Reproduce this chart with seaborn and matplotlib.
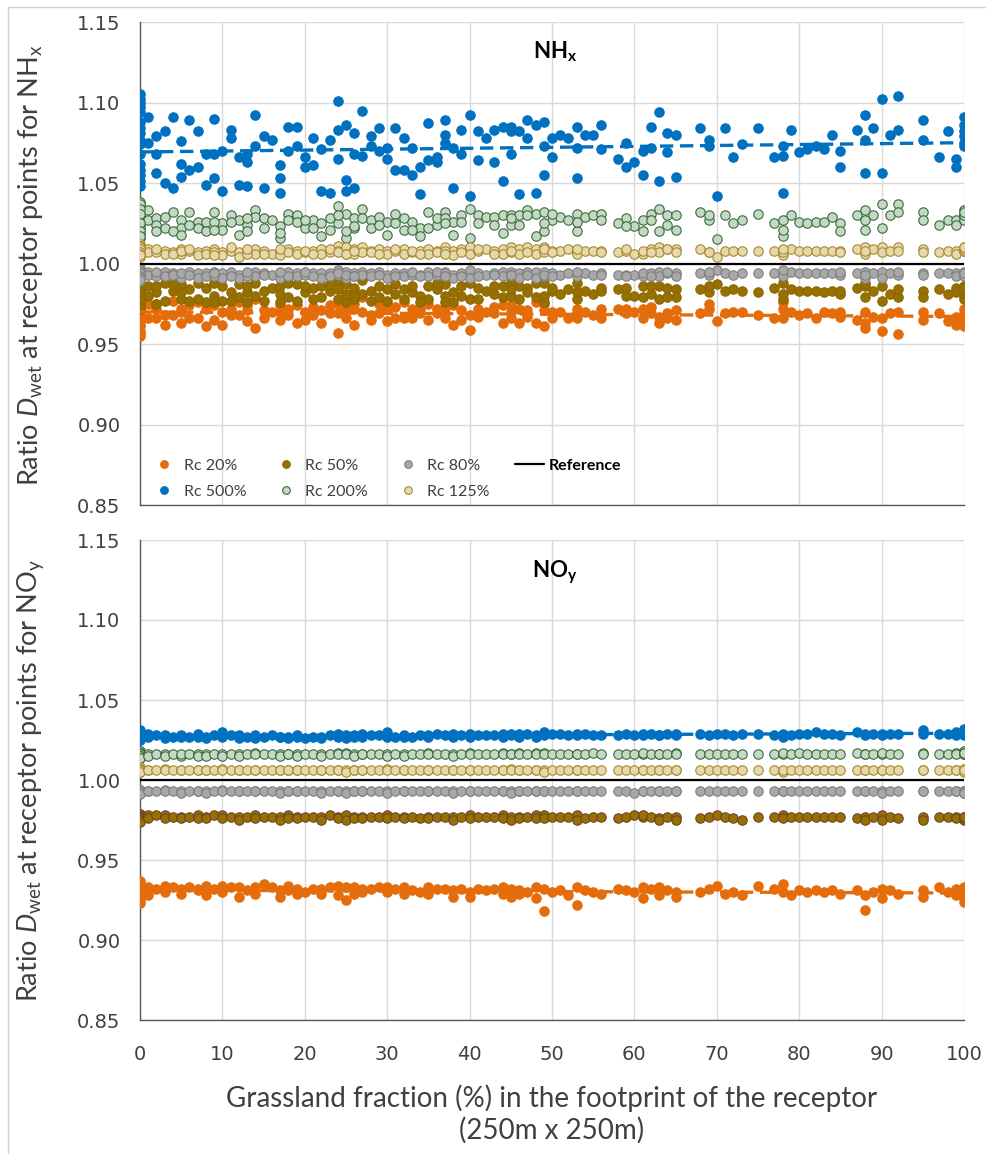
import numpy as np
import matplotlib
matplotlib.use("Agg")
import matplotlib.pyplot as plt
import seaborn as sns
from matplotlib.lines import Line2D

# ---------------- data ----------------
GRASS = [0, 0, 0, 0, 0, 0, 0, 0, 0, 0,
         1, 1, 2, 3, 3, 4, 5, 5, 6, 7,
         7, 8, 8, 9, 10, 10, 11, 12, 12, 13,
         14, 14, 15, 16, 17, 17, 18, 18, 19, 19,
         20, 21, 22, 22, 23, 24, 24, 25, 25, 26,
         26, 27, 27, 28, 29, 30, 30, 31, 32, 32,
         33, 34, 35, 35, 36, 37, 38, 38, 39, 40,
         40, 41, 42, 43, 44, 44, 45, 45, 46, 46,
         47, 48, 48, 49, 49, 50, 51, 52, 53, 53,
         54, 55, 56, 58, 59, 60, 61, 61, 62, 63,
         63, 64, 65, 65, 68, 69, 70, 71, 72, 73,
         75, 77, 78, 78, 79, 80, 81, 82, 83, 84,
         85, 87, 88, 88, 89, 90, 90, 91, 92, 95,
         95, 97, 98, 99, 99, 100, 100, 100, 100, 100]
# extra receptors visible only in the NHx panel (overlapping in NOy panel)
GRASS_EXTRA = [0, 0, 0, 0, 0, 0, 2, 2, 4, 5,
               6, 9, 9, 11, 13, 13, 15, 17, 20, 21,
               23, 24, 25, 26, 28, 29, 31, 33, 34, 36,
               37, 37, 39, 41, 43, 45, 47, 49, 50, 53,
               56, 59, 62, 64, 69, 78, 85, 88, 92, 100]

# NHx panel
NHX_RC500 = [1.105, 1.100, 1.094, 1.088, 1.081, 1.074, 1.068, 1.062, 1.055, 1.048,
             1.091, 1.075, 1.079, 1.082, 1.050, 1.091, 1.076, 1.054, 1.089, 1.082,
             1.060, 1.068, 1.049, 1.090, 1.070, 1.045, 1.083, 1.049, 1.066, 1.068,
             1.092, 1.073, 1.079, 1.077, 1.061, 1.044, 1.085, 1.070, 1.085, 1.073,
             1.060, 1.078, 1.071, 1.045, 1.077, 1.101, 1.065, 1.086, 1.045, 1.081,
             1.068, 1.095, 1.067, 1.079, 1.084, 1.072, 1.065, 1.084, 1.078, 1.058,
             1.072, 1.060, 1.087, 1.064, 1.066, 1.089, 1.072, 1.047, 1.083, 1.092,
             1.042, 1.082, 1.078, 1.083, 1.085, 1.051, 1.082, 1.068, 1.082, 1.043,
             1.089, 1.086, 1.044, 1.088, 1.055, 1.078, 1.080, 1.078, 1.085, 1.053,
             1.080, 1.080, 1.086, 1.065, 1.060, 1.063, 1.055, 1.070, 1.085, 1.094,
             1.051, 1.081, 1.080, 1.054, 1.084, 1.077, 1.042, 1.084, 1.066, 1.074,
             1.084, 1.066, 1.044, 1.073, 1.083, 1.069, 1.071, 1.073, 1.071, 1.080,
             1.070, 1.083, 1.092, 1.056, 1.084, 1.102, 1.056, 1.080, 1.104, 1.089,
             1.077, 1.066, 1.082, 1.065, 1.060, 1.091, 1.086, 1.082, 1.075, 1.073]
NHX_RC500_EXTRA = [1.102, 1.097, 1.084, 1.077, 1.058, 1.051, 1.068, 1.056, 1.047, 1.062,
                   1.058, 1.068, 1.053, 1.078, 1.063, 1.048, 1.047, 1.053, 1.066, 1.061,
                   1.044, 1.083, 1.052, 1.047, 1.073, 1.070, 1.058, 1.055, 1.043, 1.063,
                   1.080, 1.075, 1.068, 1.064, 1.063, 1.085, 1.078, 1.073, 1.066, 1.072,
                   1.071, 1.075, 1.072, 1.069, 1.073, 1.067, 1.060, 1.077, 1.083, 1.079]
NHX_RC200 = [1.038, 1.036, 1.033, 1.030, 1.028, 1.026, 1.024, 1.022, 1.019, 1.016,
             1.033, 1.027, 1.028, 1.029, 1.022, 1.032, 1.027, 1.022, 1.032, 1.026,
             1.022, 1.026, 1.020, 1.032, 1.025, 1.021, 1.030, 1.018, 1.027, 1.024,
             1.033, 1.029, 1.028, 1.027, 1.023, 1.016, 1.031, 1.027, 1.030, 1.026,
             1.022, 1.027, 1.025, 1.017, 1.028, 1.036, 1.025, 1.031, 1.016, 1.028,
             1.022, 1.034, 1.028, 1.027, 1.029, 1.026, 1.018, 1.031, 1.028, 1.021,
             1.026, 1.022, 1.032, 1.022, 1.024, 1.032, 1.026, 1.018, 1.030, 1.034,
             1.016, 1.030, 1.029, 1.029, 1.030, 1.019, 1.030, 1.024, 1.030, 1.024,
             1.033, 1.031, 1.017, 1.032, 1.020, 1.027, 1.029, 1.027, 1.031, 1.020,
             1.029, 1.030, 1.031, 1.025, 1.028, 1.023, 1.020, 1.027, 1.031, 1.034,
             1.020, 1.030, 1.030, 1.021, 1.032, 1.027, 1.015, 1.030, 1.025, 1.027,
             1.031, 1.025, 1.017, 1.021, 1.030, 1.026, 1.025, 1.026, 1.026, 1.029,
             1.025, 1.030, 1.033, 1.021, 1.030, 1.037, 1.022, 1.030, 1.037, 1.032,
             1.027, 1.024, 1.027, 1.027, 1.024, 1.033, 1.031, 1.029, 1.027, 1.030]
NHX_RC200_EXTRA = [1.037, 1.034, 1.031, 1.025, 1.020, 1.017, 1.024, 1.020, 1.020, 1.018,
                   1.024, 1.026, 1.021, 1.026, 1.028, 1.020, 1.022, 1.019, 1.027, 1.022,
                   1.021, 1.030, 1.020, 1.023, 1.022, 1.024, 1.025, 1.021, 1.017, 1.028,
                   1.028, 1.025, 1.026, 1.025, 1.024, 1.028, 1.030, 1.025, 1.031, 1.026,
                   1.027, 1.023, 1.027, 1.024, 1.030, 1.027, 1.020, 1.027, 1.032, 1.032]
NHX_RC125 = [1.012, 1.011, 1.010, 1.009, 1.008, 1.008, 1.007, 1.006, 1.005, 1.004,
             1.009, 1.007, 1.008, 1.008, 1.006, 1.007, 1.009, 1.006, 1.008, 1.007,
             1.005, 1.008, 1.006, 1.009, 1.007, 1.005, 1.008, 1.007, 1.004, 1.008,
             1.009, 1.006, 1.008, 1.006, 1.008, 1.005, 1.009, 1.007, 1.008, 1.006,
             1.007, 1.008, 1.009, 1.006, 1.007, 1.011, 1.008, 1.010, 1.006, 1.009,
             1.006, 1.010, 1.007, 1.008, 1.009, 1.008, 1.006, 1.008, 1.009, 1.006,
             1.007, 1.008, 1.009, 1.006, 1.008, 1.010, 1.008, 1.005, 1.009, 1.010,
             1.006, 1.008, 1.009, 1.008, 1.009, 1.006, 1.010, 1.007, 1.009, 1.006,
             1.010, 1.009, 1.006, 1.010, 1.007, 1.008, 1.008, 1.009, 1.008, 1.006,
             1.008, 1.008, 1.008, 1.007, 1.008, 1.006, 1.006, 1.008, 1.009, 1.010,
             1.007, 1.009, 1.009, 1.007, 1.009, 1.007, 1.004, 1.008, 1.008, 1.008,
             1.008, 1.008, 1.005, 1.007, 1.009, 1.008, 1.008, 1.008, 1.008, 1.008,
             1.008, 1.009, 1.010, 1.006, 1.009, 1.010, 1.007, 1.008, 1.010, 1.009,
             1.007, 1.007, 1.008, 1.008, 1.006, 1.010, 1.009, 1.008, 1.008, 1.009]
NHX_RC125_EXTRA = [1.011, 1.010, 1.009, 1.007, 1.006, 1.005, 1.007, 1.009, 1.006, 1.008,
                   1.009, 1.007, 1.005, 1.010, 1.006, 1.009, 1.006, 1.009, 1.008, 1.006,
                   1.009, 1.007, 1.006, 1.008, 1.007, 1.006, 1.009, 1.008, 1.006, 1.007,
                   1.008, 1.006, 1.007, 1.009, 1.006, 1.008, 1.007, 1.009, 1.007, 1.009,
                   1.007, 1.009, 1.007, 1.009, 1.007, 1.009, 1.007, 1.008, 1.008, 1.010]
NHX_RC80 = [0.997, 0.996, 0.995, 0.994, 0.993, 0.993, 0.992, 0.991, 0.990, 0.989,
            0.995, 0.993, 0.994, 0.995, 0.992, 0.994, 0.993, 0.991, 0.995, 0.994,
            0.991, 0.994, 0.992, 0.995, 0.994, 0.991, 0.995, 0.993, 0.991, 0.994,
            0.995, 0.992, 0.994, 0.993, 0.994, 0.991, 0.995, 0.992, 0.994, 0.992,
            0.993, 0.994, 0.994, 0.991, 0.994, 0.996, 0.993, 0.995, 0.991, 0.994,
            0.992, 0.995, 0.993, 0.994, 0.995, 0.993, 0.991, 0.994, 0.994, 0.992,
            0.993, 0.993, 0.995, 0.992, 0.993, 0.995, 0.993, 0.991, 0.994, 0.996,
            0.991, 0.994, 0.993, 0.994, 0.995, 0.992, 0.995, 0.993, 0.994, 0.991,
            0.995, 0.995, 0.991, 0.995, 0.992, 0.994, 0.993, 0.994, 0.994, 0.992,
            0.994, 0.993, 0.994, 0.993, 0.993, 0.993, 0.992, 0.994, 0.994, 0.995,
            0.992, 0.994, 0.994, 0.992, 0.994, 0.993, 0.996, 0.994, 0.993, 0.994,
            0.994, 0.994, 0.995, 0.992, 0.995, 0.994, 0.994, 0.994, 0.994, 0.994,
            0.993, 0.994, 0.995, 0.991, 0.994, 0.995, 0.991, 0.994, 0.993, 0.994,
            0.993, 0.994, 0.994, 0.994, 0.992, 0.995, 0.994, 0.993, 0.993, 0.992]
NHX_RC80_EXTRA = [0.996, 0.995, 0.994, 0.992, 0.991, 0.990, 0.992, 0.995, 0.993, 0.994,
                  0.993, 0.992, 0.994, 0.992, 0.992, 0.995, 0.993, 0.995, 0.995, 0.992,
                  0.992, 0.994, 0.993, 0.992, 0.992, 0.993, 0.992, 0.995, 0.992, 0.995,
                  0.994, 0.992, 0.992, 0.992, 0.993, 0.993, 0.993, 0.993, 0.992, 0.995,
                  0.993, 0.992, 0.992, 0.995, 0.995, 0.996, 0.995, 0.993, 0.995, 0.994]
NHX_RC50 = [0.991, 0.988, 0.986, 0.984, 0.982, 0.980, 0.978, 0.976, 0.974, 0.972,
            0.986, 0.980, 0.982, 0.988, 0.977, 0.983, 0.987, 0.978, 0.984, 0.988,
            0.978, 0.985, 0.976, 0.988, 0.986, 0.977, 0.982, 0.987, 0.979, 0.982,
            0.988, 0.980, 0.983, 0.985, 0.986, 0.976, 0.988, 0.979, 0.987, 0.977,
            0.982, 0.985, 0.986, 0.979, 0.983, 0.989, 0.978, 0.987, 0.976, 0.985,
            0.978, 0.990, 0.981, 0.983, 0.986, 0.984, 0.977, 0.987, 0.984, 0.978,
            0.982, 0.980, 0.986, 0.978, 0.984, 0.987, 0.982, 0.976, 0.986, 0.988,
            0.978, 0.985, 0.983, 0.981, 0.986, 0.979, 0.988, 0.980, 0.986, 0.978,
            0.985, 0.988, 0.979, 0.988, 0.976, 0.983, 0.981, 0.984, 0.988, 0.978,
            0.983, 0.981, 0.983, 0.984, 0.985, 0.980, 0.979, 0.986, 0.981, 0.986,
            0.978, 0.985, 0.984, 0.979, 0.984, 0.982, 0.987, 0.983, 0.984, 0.983,
            0.982, 0.985, 0.978, 0.988, 0.984, 0.983, 0.983, 0.983, 0.982, 0.983,
            0.981, 0.985, 0.986, 0.979, 0.983, 0.986, 0.977, 0.981, 0.979, 0.983,
            0.979, 0.984, 0.981, 0.985, 0.982, 0.986, 0.984, 0.982, 0.980, 0.978]
NHX_RC50_EXTRA = [0.990, 0.987, 0.983, 0.979, 0.977, 0.973, 0.986, 0.975, 0.987, 0.982,
                  0.977, 0.980, 0.976, 0.977, 0.986, 0.976, 0.977, 0.981, 0.986, 0.978,
                  0.987, 0.984, 0.981, 0.980, 0.977, 0.979, 0.981, 0.986, 0.976, 0.988,
                  0.980, 0.976, 0.980, 0.978, 0.986, 0.984, 0.982, 0.980, 0.985, 0.982,
                  0.985, 0.980, 0.986, 0.979, 0.986, 0.981, 0.983, 0.988, 0.984, 0.985]
NHX_RC20 = [0.982, 0.979, 0.976, 0.973, 0.970, 0.967, 0.964, 0.961, 0.958, 0.955,
            0.975, 0.966, 0.972, 0.968, 0.962, 0.977, 0.970, 0.963, 0.974, 0.976,
            0.966, 0.972, 0.961, 0.974, 0.970, 0.962, 0.972, 0.976, 0.968, 0.971,
            0.978, 0.960, 0.971, 0.970, 0.974, 0.965, 0.972, 0.968, 0.974, 0.963,
            0.970, 0.968, 0.971, 0.963, 0.969, 0.975, 0.957, 0.978, 0.966, 0.972,
            0.962, 0.979, 0.970, 0.968, 0.975, 0.972, 0.964, 0.973, 0.976, 0.966,
            0.972, 0.969, 0.975, 0.965, 0.969, 0.973, 0.974, 0.962, 0.971, 0.968,
            0.959, 0.972, 0.970, 0.969, 0.974, 0.963, 0.974, 0.966, 0.972, 0.963,
            0.967, 0.976, 0.963, 0.975, 0.961, 0.970, 0.970, 0.966, 0.972, 0.966,
            0.970, 0.968, 0.966, 0.972, 0.969, 0.970, 0.966, 0.972, 0.973, 0.967,
            0.963, 0.969, 0.971, 0.965, 0.969, 0.975, 0.964, 0.969, 0.970, 0.970,
            0.968, 0.966, 0.972, 0.976, 0.970, 0.968, 0.969, 0.966, 0.970, 0.969,
            0.967, 0.965, 0.970, 0.960, 0.967, 0.966, 0.958, 0.969, 0.956, 0.970,
            0.965, 0.969, 0.964, 0.962, 0.967, 0.972, 0.969, 0.966, 0.963, 0.961]
NHX_RC20_EXTRA = [0.980, 0.977, 0.971, 0.965, 0.962, 0.957, 0.966, 0.975, 0.968, 0.972,
                  0.966, 0.976, 0.965, 0.968, 0.974, 0.964, 0.966, 0.970, 0.965, 0.973,
                  0.974, 0.969, 0.973, 0.975, 0.965, 0.969, 0.966, 0.966, 0.972, 0.972,
                  0.969, 0.966, 0.965, 0.967, 0.973, 0.970, 0.971, 0.971, 0.966, 0.969,
                  0.972, 0.972, 0.969, 0.966, 0.972, 0.966, 0.970, 0.963, 0.970, 0.966]

# NOy panel
NOY_RC500 = [1.031, 1.030, 1.030, 1.029, 1.028, 1.028, 1.027, 1.027, 1.026, 1.025,
             1.029, 1.027, 1.028, 1.028, 1.026, 1.027, 1.028, 1.027, 1.027, 1.029,
             1.027, 1.027, 1.026, 1.028, 1.030, 1.027, 1.028, 1.028, 1.026, 1.027,
             1.028, 1.026, 1.027, 1.028, 1.027, 1.027, 1.027, 1.026, 1.028, 1.027,
             1.026, 1.027, 1.027, 1.026, 1.028, 1.029, 1.027, 1.028, 1.026, 1.028,
             1.027, 1.029, 1.027, 1.028, 1.028, 1.030, 1.027, 1.027, 1.028, 1.027,
             1.027, 1.028, 1.028, 1.027, 1.029, 1.028, 1.029, 1.027, 1.028, 1.029,
             1.027, 1.028, 1.028, 1.028, 1.029, 1.027, 1.029, 1.028, 1.029, 1.027,
             1.029, 1.028, 1.027, 1.030, 1.028, 1.029, 1.029, 1.028, 1.029, 1.028,
             1.029, 1.028, 1.028, 1.028, 1.029, 1.028, 1.028, 1.029, 1.029, 1.028,
             1.028, 1.029, 1.029, 1.028, 1.029, 1.028, 1.029, 1.029, 1.028, 1.029,
             1.029, 1.028, 1.027, 1.029, 1.028, 1.029, 1.029, 1.030, 1.029, 1.029,
             1.028, 1.030, 1.029, 1.028, 1.029, 1.029, 1.028, 1.029, 1.029, 1.031,
             1.029, 1.029, 1.029, 1.030, 1.028, 1.032, 1.031, 1.030, 1.029, 1.028]
NOY_RC200 = [1.018, 1.018, 1.017, 1.017, 1.016, 1.016, 1.015, 1.015, 1.014, 1.014,
             1.016, 1.015, 1.016, 1.016, 1.015, 1.016, 1.015, 1.016, 1.016, 1.016,
             1.015, 1.016, 1.015, 1.016, 1.016, 1.015, 1.016, 1.016, 1.015, 1.016,
             1.017, 1.016, 1.016, 1.016, 1.016, 1.015, 1.016, 1.016, 1.016, 1.015,
             1.016, 1.016, 1.016, 1.015, 1.016, 1.017, 1.016, 1.017, 1.016, 1.016,
             1.015, 1.016, 1.016, 1.016, 1.016, 1.016, 1.015, 1.016, 1.016, 1.015,
             1.016, 1.016, 1.017, 1.016, 1.016, 1.016, 1.016, 1.015, 1.016, 1.017,
             1.016, 1.016, 1.016, 1.016, 1.017, 1.016, 1.016, 1.016, 1.017, 1.016,
             1.016, 1.017, 1.016, 1.017, 1.016, 1.016, 1.016, 1.016, 1.016, 1.016,
             1.016, 1.017, 1.016, 1.016, 1.016, 1.016, 1.016, 1.017, 1.016, 1.016,
             1.016, 1.016, 1.017, 1.016, 1.016, 1.016, 1.016, 1.016, 1.016, 1.016,
             1.016, 1.016, 1.016, 1.017, 1.016, 1.017, 1.016, 1.016, 1.016, 1.016,
             1.016, 1.017, 1.016, 1.016, 1.016, 1.016, 1.017, 1.016, 1.016, 1.017,
             1.016, 1.016, 1.016, 1.017, 1.016, 1.018, 1.017, 1.016, 1.016, 1.017]
NOY_RC125 = [1.008, 1.007, 1.007, 1.007, 1.006, 1.006, 1.006, 1.005, 1.005, 1.005,
             1.006, 1.006, 1.006, 1.007, 1.006, 1.006, 1.006, 1.006, 1.006, 1.006,
             1.006, 1.006, 1.006, 1.006, 1.007, 1.006, 1.006, 1.006, 1.006, 1.006,
             1.006, 1.006, 1.006, 1.006, 1.006, 1.006, 1.006, 1.006, 1.006, 1.006,
             1.006, 1.006, 1.006, 1.006, 1.006, 1.006, 1.006, 1.006, 1.005, 1.006,
             1.006, 1.006, 1.006, 1.006, 1.006, 1.007, 1.006, 1.006, 1.006, 1.006,
             1.006, 1.006, 1.006, 1.006, 1.006, 1.006, 1.006, 1.006, 1.006, 1.006,
             1.006, 1.006, 1.006, 1.006, 1.006, 1.006, 1.007, 1.006, 1.006, 1.006,
             1.006, 1.006, 1.006, 1.006, 1.005, 1.006, 1.006, 1.006, 1.006, 1.006,
             1.006, 1.006, 1.006, 1.006, 1.006, 1.006, 1.006, 1.006, 1.006, 1.006,
             1.006, 1.006, 1.006, 1.006, 1.006, 1.006, 1.006, 1.006, 1.006, 1.006,
             1.006, 1.006, 1.005, 1.006, 1.006, 1.006, 1.006, 1.006, 1.006, 1.006,
             1.006, 1.006, 1.006, 1.006, 1.006, 1.006, 1.006, 1.006, 1.006, 1.006,
             1.006, 1.006, 1.006, 1.006, 1.006, 1.007, 1.006, 1.006, 1.005, 1.006]
NOY_RC80 = [0.994, 0.994, 0.993, 0.993, 0.993, 0.993, 0.992, 0.992, 0.992, 0.991,
            0.993, 0.993, 0.993, 0.994, 0.993, 0.993, 0.993, 0.992, 0.993, 0.993,
            0.993, 0.993, 0.992, 0.993, 0.994, 0.993, 0.993, 0.993, 0.993, 0.993,
            0.993, 0.993, 0.993, 0.993, 0.993, 0.992, 0.993, 0.993, 0.993, 0.993,
            0.993, 0.993, 0.993, 0.992, 0.993, 0.993, 0.993, 0.993, 0.992, 0.993,
            0.993, 0.993, 0.993, 0.993, 0.993, 0.993, 0.992, 0.993, 0.993, 0.993,
            0.993, 0.993, 0.993, 0.993, 0.993, 0.993, 0.993, 0.992, 0.993, 0.993,
            0.993, 0.993, 0.993, 0.993, 0.993, 0.993, 0.993, 0.992, 0.993, 0.993,
            0.993, 0.993, 0.993, 0.993, 0.993, 0.993, 0.993, 0.993, 0.993, 0.993,
            0.993, 0.993, 0.993, 0.993, 0.993, 0.992, 0.993, 0.993, 0.993, 0.993,
            0.993, 0.993, 0.993, 0.993, 0.993, 0.993, 0.993, 0.993, 0.993, 0.993,
            0.993, 0.993, 0.993, 0.993, 0.993, 0.993, 0.993, 0.993, 0.993, 0.993,
            0.993, 0.993, 0.993, 0.993, 0.993, 0.993, 0.992, 0.993, 0.993, 0.993,
            0.993, 0.993, 0.993, 0.993, 0.993, 0.993, 0.993, 0.993, 0.992, 0.992]
NOY_RC50 = [0.979, 0.978, 0.978, 0.977, 0.977, 0.976, 0.976, 0.975, 0.975, 0.974,
            0.978, 0.976, 0.978, 0.978, 0.976, 0.977, 0.977, 0.976, 0.977, 0.978,
            0.976, 0.977, 0.976, 0.978, 0.978, 0.976, 0.977, 0.977, 0.975, 0.977,
            0.978, 0.976, 0.977, 0.977, 0.977, 0.975, 0.978, 0.976, 0.977, 0.976,
            0.977, 0.977, 0.977, 0.975, 0.978, 0.977, 0.976, 0.978, 0.975, 0.977,
            0.976, 0.977, 0.976, 0.977, 0.977, 0.978, 0.976, 0.977, 0.977, 0.976,
            0.977, 0.976, 0.977, 0.976, 0.977, 0.977, 0.977, 0.975, 0.977, 0.978,
            0.976, 0.977, 0.977, 0.977, 0.978, 0.976, 0.977, 0.975, 0.977, 0.976,
            0.977, 0.978, 0.976, 0.978, 0.976, 0.977, 0.977, 0.977, 0.978, 0.975,
            0.976, 0.977, 0.977, 0.976, 0.977, 0.978, 0.977, 0.978, 0.977, 0.976,
            0.975, 0.977, 0.977, 0.975, 0.976, 0.977, 0.978, 0.977, 0.976, 0.975,
            0.977, 0.977, 0.978, 0.976, 0.977, 0.977, 0.977, 0.977, 0.977, 0.977,
            0.977, 0.976, 0.977, 0.975, 0.977, 0.978, 0.975, 0.977, 0.976, 0.977,
            0.975, 0.977, 0.977, 0.977, 0.976, 0.977, 0.976, 0.975, 0.976, 0.977]
NOY_RC20 = [0.937, 0.935, 0.933, 0.932, 0.930, 0.929, 0.928, 0.927, 0.925, 0.923,
            0.933, 0.928, 0.932, 0.934, 0.930, 0.933, 0.932, 0.929, 0.933, 0.932,
            0.931, 0.934, 0.928, 0.932, 0.934, 0.930, 0.933, 0.933, 0.927, 0.931,
            0.933, 0.929, 0.935, 0.933, 0.931, 0.927, 0.934, 0.931, 0.932, 0.929,
            0.930, 0.932, 0.932, 0.929, 0.933, 0.934, 0.928, 0.933, 0.925, 0.933,
            0.929, 0.932, 0.930, 0.932, 0.933, 0.933, 0.930, 0.932, 0.933, 0.929,
            0.931, 0.930, 0.933, 0.929, 0.932, 0.932, 0.931, 0.927, 0.932, 0.930,
            0.927, 0.932, 0.931, 0.932, 0.933, 0.929, 0.932, 0.927, 0.931, 0.929,
            0.930, 0.933, 0.926, 0.932, 0.918, 0.930, 0.931, 0.928, 0.933, 0.922,
            0.931, 0.930, 0.929, 0.932, 0.931, 0.930, 0.933, 0.926, 0.932, 0.933,
            0.928, 0.931, 0.930, 0.927, 0.930, 0.932, 0.934, 0.929, 0.930, 0.928,
            0.934, 0.932, 0.935, 0.930, 0.928, 0.931, 0.930, 0.931, 0.930, 0.931,
            0.929, 0.931, 0.928, 0.919, 0.930, 0.932, 0.926, 0.931, 0.929, 0.931,
            0.927, 0.933, 0.930, 0.932, 0.928, 0.933, 0.931, 0.929, 0.926, 0.924]

REFERENCE = 1.0
SERIES_LABELS = ["Rc 20%", "Rc 500%", "Rc 50%", "Rc 200%", "Rc 80%", "Rc 125%"]
Y_TICKS = [0.85, 0.90, 0.95, 1.00, 1.05, 1.10, 1.15]
X_TICKS = [0, 10, 20, 30, 40, 50, 60, 70, 80, 90, 100]

X_NHX = GRASS + GRASS_EXTRA
NHX = {"Rc 20%": NHX_RC20 + NHX_RC20_EXTRA, "Rc 500%": NHX_RC500 + NHX_RC500_EXTRA,
       "Rc 50%": NHX_RC50 + NHX_RC50_EXTRA, "Rc 200%": NHX_RC200 + NHX_RC200_EXTRA,
       "Rc 80%": NHX_RC80 + NHX_RC80_EXTRA, "Rc 125%": NHX_RC125 + NHX_RC125_EXTRA}
X_NOY = GRASS
NOY = {"Rc 20%": NOY_RC20, "Rc 500%": NOY_RC500, "Rc 50%": NOY_RC50,
       "Rc 200%": NOY_RC200, "Rc 80%": NOY_RC80, "Rc 125%": NOY_RC125}
for xx, d in ((X_NHX, NHX), (X_NOY, NOY)):
    for k, v in d.items():
        if len(v) != len(xx):
            raise ValueError(f"{k}: {len(v)} vs {len(xx)}")

# ---------------- style ----------------
sns.set_style("white")
plt.rcParams["font.family"] = ["DejaVu Sans"]
plt.rcParams["mathtext.fontset"] = "custom"
plt.rcParams["mathtext.rm"] = "Lato"
plt.rcParams["mathtext.it"] = "Lato:italic"
plt.rcParams["mathtext.bf"] = "Lato:bold"

STYLE_TOP = {
    "Rc 20%": ("#E46C0A", "#E46C0A"),
    "Rc 500%": ("#0070C0", "#0070C0"),
    "Rc 50%": ("#977000", "#8C6800"),
    "Rc 200%": ("#C3D9C3", "#3B6B3E"),
    "Rc 80%": ("#A8A8A8", "#7F7F7F"),
    "Rc 125%": ("#E4D8AC", "#A8892C"),
}
STYLE_BOT = dict(STYLE_TOP)
STYLE_BOT["Rc 50%"] = ("#977000", "#70452A")

TXT = "#404040"
GRID = "#D9D9D9"

W, H = 986, 1154
fig = plt.figure(figsize=(W / 100, H / 100), dpi=100)
ax1 = fig.add_axes([140 / W, 1 - 505 / H, 824 / W, 483 / H])
ax2 = fig.add_axes([140 / W, 1 - 1020 / H, 824 / W, 480 / H])


def draw(ax, xvals, data, style):
    for lab in SERIES_LABELS:
        face, edge = style[lab]
        sns.scatterplot(x=xvals, y=data[lab], ax=ax, color=face, edgecolor=edge,
                        linewidth=0.8, s=46, zorder=3, legend=False)
    ax.axhline(REFERENCE, color="black", lw=1.6, zorder=4)
    # linear trendlines for Rc 500% and Rc 20%
    xs = np.array([0, 100])
    for lab in ("Rc 500%", "Rc 20%"):
        b, a = np.polyfit(xvals, data[lab], 1)
        sns.lineplot(x=xs, y=a + b * xs, ax=ax, color=style[lab][0], lw=2.4,
                     zorder=5, legend=False)
        ax.lines[-1].set_dashes((4, 2))
    ax.set_xlim(0, 100)
    ax.set_ylim(0.85, 1.15)
    ax.set_xticks(X_TICKS)
    ax.set_yticks(Y_TICKS)
    ax.set_yticklabels([f"{t:.2f}" for t in Y_TICKS])
    ax.grid(True, color=GRID, lw=1.0, zorder=0)
    ax.set_axisbelow(True)
    for s in ("top", "right"):
        ax.spines[s].set_visible(False)
    for s in ("left", "bottom"):
        ax.spines[s].set_color("#595959")
        ax.spines[s].set_linewidth(1.0)
    ax.tick_params(axis="both", length=0, labelsize=14, colors=TXT, pad=14)
    ax.set_xlabel("")
    ax.set_ylabel("")


draw(ax1, X_NHX, NHX, STYLE_TOP)
draw(ax2, X_NOY, NOY, STYLE_BOT)
ax1.tick_params(axis="x", labelbottom=False)
ax2.tick_params(axis="x", pad=18)

# panel titles
fig.text(555 / W, 1 - 52 / H, r"NH$_\mathbf{x}$", ha="center", va="center",
         fontsize=16, fontweight="bold", family="Lato", color="black")
fig.text(555 / W, 1 - 572 / H, r"NO$_\mathbf{y}$", ha="center", va="center",
         fontsize=16, fontweight="bold", family="Lato", color="black")

# y labels
fig.text(31 / W, 1 - 265 / H,
         r"Ratio $\mathit{D}_{\mathrm{wet}}$ at receptor points for NH$_\mathrm{x}$",
         rotation=90, ha="center", va="center", fontsize=19.5, family="Lato", color=TXT)
fig.text(31 / W, 1 - 780 / H,
         r"Ratio $\mathit{D}_{\mathrm{wet}}$ at receptor points for NO$_\mathrm{y}$",
         rotation=90, ha="center", va="center", fontsize=19.5, family="Lato", color=TXT)

# x label
fig.text(552 / W, 1 - 1114 / H,
         "Grassland fraction (%) in the footprint of the receptor\n(250m x 250m)",
         ha="center", va="center", fontsize=20, family="Lato", color=TXT, linespacing=1.2)

# legend
handles = []
for lab in SERIES_LABELS:
    face, edge = STYLE_TOP[lab]
    handles.append(Line2D([], [], ls="none", marker="o", markersize=5.5,
                          markerfacecolor=face, markeredgecolor=edge,
                          markeredgewidth=0.8, label=lab))
handles.append(Line2D([], [], color="black", lw=1.6, label="Reference"))
leg = ax1.legend(handles=handles, ncol=4, loc="lower left",
                 bbox_to_anchor=(2 / 824, -2 / 483), frameon=False, borderpad=0,
                 handlelength=1.8, handletextpad=0.3, columnspacing=1.6,
                 labelspacing=0.75, prop={"family": "Lato", "size": 11.5})
for t in leg.get_texts():
    t.set_color(TXT)
leg.get_texts()[-1].set_fontweight("bold")
leg.get_texts()[-1].set_color("black")

# outer chart border (top and left edges)
fig.add_artist(Line2D([8 / W, 8 / W], [0, 1 - 7 / H], transform=fig.transFigure,
                      color="#D0D0D0", lw=1))
fig.add_artist(Line2D([8 / W, 1], [1 - 7 / H, 1 - 7 / H], transform=fig.transFigure,
                      color="#D0D0D0", lw=1))

fig.savefig("out.png", dpi=100, facecolor="white")
